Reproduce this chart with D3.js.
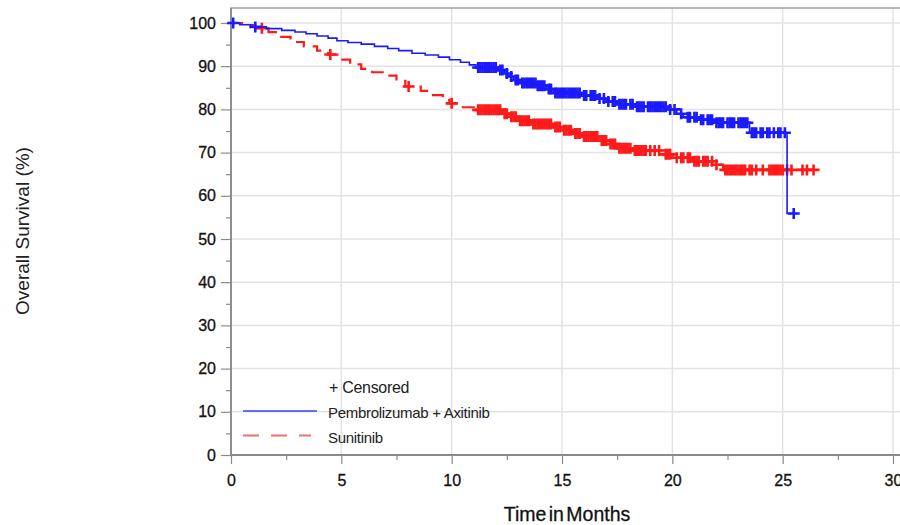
<!DOCTYPE html>
<html>
<head>
<meta charset="utf-8">
<script src="https://cdn.jsdelivr.net/npm/d3@7"></script>
<style>
  html, body { margin: 0; padding: 0; background: #fff; }
  svg { display: block; font-family: "Liberation Sans", Arial, sans-serif; }
</style>
</head>
<body>
<svg id="chart" width="900" height="525"></svg>
<script>
// Kaplan-Meier steps: [month, survival %]
const pembroSteps = [
  [0,100],[0.4,99.6],[0.9,99.1],[1.6,98.7],[2.3,98.3],[2.9,97.9],[3.4,97.5],[3.9,97.0],
  [4.4,96.5],[4.8,95.9],[5.3,95.5],[5.9,95.1],[6.5,94.6],[7.1,94.1],[7.6,93.6],[8.2,93.0],
  [8.8,92.6],[9.4,92.1],[9.9,91.5],[10.4,90.9],[10.8,90.3],[11.1,89.7],[12.1,89.1],[12.4,88.3],
  [12.6,87.6],[12.8,86.8],[13.1,86.1],[13.9,85.5],[14.3,84.7],[14.6,83.8],[15.9,83.2],[16.6,82.5],
  [17.0,81.8],[17.5,81.2],[18.3,80.6],[19.8,80.0],[20.2,79.0],[20.5,78.2],[21.2,77.6],[21.9,76.9],
  [23.5,74.6],[25.2,55.9]
];
const pembroEnd = 25.6;
const pembroCensored = [
  0.1,1.1,11.2,11.3,11.4,11.5,11.6,11.7,11.8,11.9,12.0,12.2,12.3,12.5,12.7,12.9,13.0,13.2,
  13.3,13.4,13.5,13.6,13.7,13.8,13.9,14.0,14.1,14.2,14.4,14.5,14.7,14.8,14.9,15.0,15.1,15.2,
  15.3,15.4,15.5,15.6,15.7,15.8,16.0,16.1,16.3,16.4,16.5,16.7,16.9,17.1,17.3,17.4,17.6,17.7,
  17.8,17.9,18.1,18.2,18.4,18.5,18.6,18.7,18.9,19.0,19.1,19.2,19.3,19.4,19.5,19.6,19.7,19.9,
  20.1,20.4,20.7,20.8,21.0,21.1,21.3,21.4,21.6,21.7,21.8,22.0,22.1,22.2,22.3,22.5,22.6,22.7,
  22.8,23.0,23.1,23.2,23.3,23.4,23.6,23.7,23.8,24.0,24.1,24.3,24.4,24.6,24.8,24.9,25.1,25.5
];

const sunitSteps = [
  [0,100],[0.5,99.5],[1.1,98.8],[1.7,97.9],[2.2,96.8],[2.7,95.6],[3.3,94.6],[3.9,93.6],
  [4.4,92.7],[4.9,91.5],[5.4,90.4],[5.9,89.4],[6.4,88.6],[7.0,87.8],[7.5,86.6],[7.9,85.3],
  [8.6,84.3],[9.1,83.3],[9.6,82.2],[9.9,81.4],[10.4,80.5],[11.0,79.9],[12.3,79.0],[12.6,78.3],
  [13.0,77.4],[13.6,76.6],[14.6,75.9],[15.0,75.2],[15.5,74.4],[15.9,73.7],[16.7,72.8],[17.1,72.0],
  [17.5,71.0],[18.2,70.5],[19.6,69.6],[20.0,68.8],[20.9,68.0],[21.9,67.2],[22.3,66.0]
];
const sunitEnd = 26.5;
const sunitCensored = [
  1.4,4.5,8.05,10.0,11.2,11.3,11.4,11.5,11.6,11.7,11.8,11.9,12.0,12.1,12.2,12.4,12.5,12.7,
  12.8,12.9,13.1,13.2,13.3,13.4,13.5,13.7,13.8,13.9,14.0,14.1,14.2,14.3,14.4,14.5,14.7,14.8,
  14.9,15.1,15.2,15.3,15.4,15.6,15.7,15.8,16.0,16.1,16.2,16.3,16.4,16.5,16.6,16.8,16.9,17.0,
  17.2,17.3,17.4,17.6,17.7,17.8,17.9,18.0,18.1,18.3,18.4,18.5,18.6,18.7,18.8,19.0,19.2,19.4,
  19.7,19.8,19.9,20.2,20.4,20.5,20.7,20.8,21.0,21.1,21.2,21.4,21.5,21.6,21.8,22.0,22.4,22.5,
  22.6,22.7,22.8,22.9,23.0,23.1,23.2,23.3,23.5,23.6,23.8,24.1,24.4,24.5,24.6,24.7,24.8,24.9,
  25.0,25.2,25.4,25.9,26.1,26.4
];

const xTicks = [0,5,10,15,20,25,30];
const xMinor = [2.5,7.5,12.5,17.5,22.5,27.5];
const yTicks = [0,10,20,30,40,50,60,70,80,90,100];
const yMinor = [5,15,25,35,45,55,65,75,85,95];

const series = [
  { name: "Pembrolizumab + Axitinib", steps: pembroSteps, end: pembroEnd, censored: pembroCensored,
    color: "#1a1aff", width: 1.6, dash: null },
  { name: "Sunitinib", steps: sunitSteps, end: sunitEnd, censored: sunitCensored,
    color: "#ff1a1a", width: 2.2, dash: "13,8" }
];

const svg = d3.select("#chart");
const plot = { left: 231, right: 893, top: 23, bottom: 455, frameTop: 8, frameRight: 912 };

const x = d3.scaleLinear().domain([0, 30]).range([plot.left, plot.right]);
const y = d3.scaleLinear().domain([0, 100]).range([plot.bottom, plot.top]);

// gridlines
const grid = svg.append("g").attr("stroke", "#e3e3e3").attr("stroke-width", 1.5);
grid.selectAll(".gx").data(xTicks.filter(d => d > 0)).join("line")
  .attr("x1", d => x(d)).attr("x2", d => x(d))
  .attr("y1", plot.frameTop).attr("y2", plot.bottom);
grid.selectAll(".gy").data(yTicks.filter(d => d > 0)).join("line")
  .attr("x1", plot.left).attr("x2", plot.frameRight)
  .attr("y1", d => y(d)).attr("y2", d => y(d));

// frame
svg.append("path")
  .attr("d", `M${plot.left},${plot.bottom}V${plot.frameTop}H${plot.frameRight}`)
  .attr("fill", "none").attr("stroke", "#a0a0a0").attr("stroke-width", 1.5);

// axes
function styleAxis(g) {
  g.select(".domain").attr("stroke", "#8a8a8a").attr("stroke-width", 1.8);
  g.selectAll(".tick line").attr("stroke", "#8a8a8a").attr("stroke-width", 1.2);
  g.selectAll(".tick text").attr("fill", "#111").style("font-size", "16px")
    .attr("stroke", "#111").attr("stroke-width", 0.3)
    .style("font-family", "'Liberation Sans', Arial, sans-serif");
}

svg.append("g").attr("transform", `translate(0,${plot.bottom})`)
  .call(d3.axisBottom(x).tickValues(xMinor).tickSize(5).tickFormat("").tickSizeOuter(0))
  .call(g => { g.select(".domain").remove(); g.selectAll(".tick line").attr("stroke", "#8a8a8a").attr("stroke-width", 1.2); });
svg.append("g").attr("transform", `translate(${plot.left},0)`)
  .call(d3.axisLeft(y).tickValues(yMinor).tickSize(5).tickFormat("").tickSizeOuter(0))
  .call(g => { g.select(".domain").remove(); g.selectAll(".tick line").attr("stroke", "#8a8a8a").attr("stroke-width", 1.2); });

const xAxis = svg.append("g").attr("transform", `translate(0,${plot.bottom})`)
  .call(d3.axisBottom(x).tickValues(xTicks).tickSize(9).tickPadding(11).tickSizeOuter(0).tickFormat(d3.format("d")));
styleAxis(xAxis);
xAxis.select(".domain").attr("d", `M${plot.left},0H${plot.frameRight}`);

const yAxis = svg.append("g").attr("transform", `translate(${plot.left},0)`)
  .call(d3.axisLeft(y).tickValues(yTicks).tickSize(10).tickPadding(5).tickSizeOuter(0).tickFormat(d3.format("d")));
styleAxis(yAxis);
yAxis.select(".domain").attr("d", `M0,${plot.bottom}V${plot.frameTop}`);

// axis titles
svg.append("text")
  .attr("x", 567).attr("y", 521)
  .attr("text-anchor", "middle")
  .style("font-size", "19.5px").attr("fill", "#111")
  .attr("stroke", "#111").attr("stroke-width", 0.3)
  .style("word-spacing", "-3px")
  .text("Time in Months");

svg.append("text")
  .attr("transform", "translate(29,231) rotate(-90)")
  .attr("text-anchor", "middle")
  .style("font-size", "19px").attr("fill", "#222")
  .text("Overall Survival (%)");

// survival curves
const line = d3.line().x(d => x(d[0])).y(d => y(d[1])).curve(d3.curveStepAfter);
const bisect = d3.bisector(d => d[0]).right;

const curves = svg.append("g");
series.slice().reverse().forEach(s => {
  const pts = s.steps.concat([[s.end, s.steps[s.steps.length - 1][1]]]);
  curves.append("path")
    .datum(pts)
    .attr("d", line)
    .attr("fill", "none")
    .attr("stroke", s.color)
    .attr("stroke-width", s.width)
    .attr("stroke-dasharray", s.dash);

  // censor marks sit on the step value at each censoring time
  const survAt = t => s.steps[Math.max(0, bisect(s.steps, t) - 1)][1];
  const g = curves.append("g").attr("stroke", s.color).attr("stroke-width", 2.6).attr("fill", "none");
  g.selectAll("path").data(s.censored).join("path")
    .attr("d", t => {
      const cx = x(t), cy = y(survAt(t));
      return `M${cx - 6},${cy}H${cx + 6}M${cx},${cy - 5.5}V${cy + 5.5}`;
    });
});

// legend
const legend = svg.append("g").style("font-family", "'Liberation Sans', Arial, sans-serif");
legend.append("text").attr("x", 329).attr("y", 393)
  .style("font-size", "16px").attr("fill", "#222").style("letter-spacing", "-0.3px")
  .text("+ Censored");
series.forEach((s, i) => {
  const ly = 411 + i * 24.5;
  legend.append("line")
    .attr("x1", 243).attr("x2", i === 0 ? 317 : 311)
    .attr("y1", ly).attr("y2", ly)
    .attr("stroke", i === 0 ? "#3c3cff" : "#f07070")
    .attr("stroke-width", i === 0 ? 1.5 : 2)
    .attr("stroke-dasharray", s.dash ? "16,12" : null);
  legend.append("text").attr("x", 328).attr("y", ly + 7)
    .style("font-size", "15px").attr("fill", "#222").style("letter-spacing", "-0.3px")
    .text(s.name);
});
</script>
</body>
</html>
